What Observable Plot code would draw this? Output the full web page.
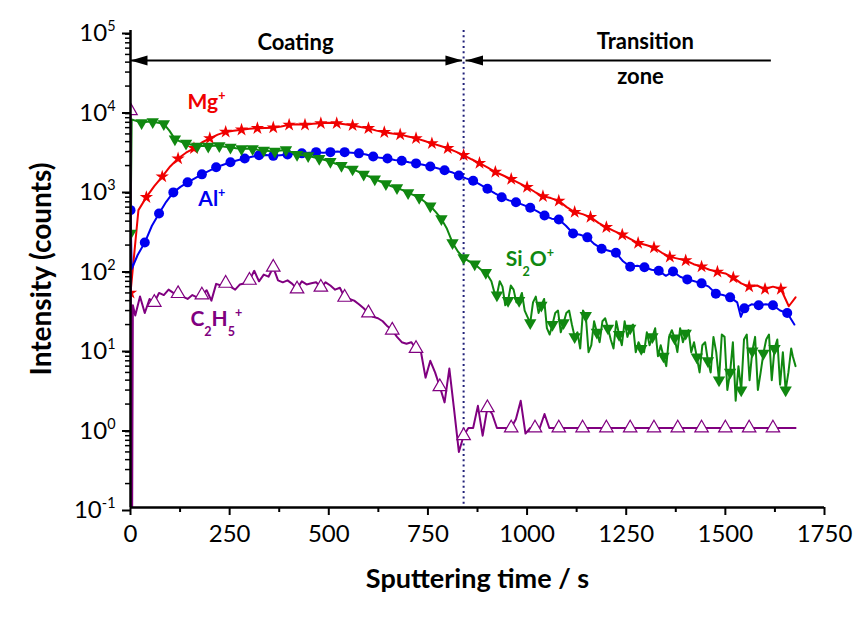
<!DOCTYPE html>
<html><head><meta charset="utf-8">
<script src="https://cdn.jsdelivr.net/npm/d3@7"></script>
<script src="https://cdn.jsdelivr.net/npm/@observablehq/plot@0.6"></script>
<style>html,body{margin:0;padding:0;background:#fff}#chart{width:862px;height:617px}</style>
</head><body><div id="chart"></div>
<script>
// ---------- data: [sputtering time (s), intensity (counts)] ----------
const mg = [[0,50],[20,550],[40,800],[60,1100],[80,1450],[100,1950],[120,2450],[140,2900],[160,3300],[180,3900],[200,4400],
[220,4900],[240,5300],[260,5500],[280,5650],[300,5800],[320,5900],[340,5950],[360,6000],[380,6200],[400,6500],
[420,6600],[440,6500],[460,6700],[480,6800],[500,6900],[520,6800],[540,6600],[560,6400],[580,6100],[600,5900],
[620,5500],[640,5250],[660,5050],[680,4900],[700,4650],[720,4400],[740,4100],[760,3800],[780,3550],[800,3300],
[820,3000],[840,2700],[860,2400],[880,2150],[900,1900],[920,1660],[940,1500],[960,1350],[980,1200],[1000,1070],
[1020,930],[1040,820],[1060,780],[1080,720],[1100,600],[1120,520],[1140,490],[1160,450],[1180,380],[1200,335],
[1220,300],[1240,270],[1260,240],[1280,212],[1300,200],[1320,186],[1340,160],[1360,142],[1380,135],[1400,128],
[1420,115],[1440,107],[1460,98],[1480,92],[1500,88],[1520,78],[1540,66],[1560,60],[1580,62],[1600,56],
[1620,60],[1640,56],[1660,34],[1677,44]];

const al = [[0,550],[3,100],[18,150],[36,215],[54,350],[72,500],[90,700],[108,920],[126,1080],[144,1230],[162,1380],[180,1550],
[198,1720],[216,1900],[234,2050],[252,2200],[270,2330],[288,2450],[306,2580],[324,2700],[342,2720],[360,2650],[378,2700],
[396,2750],[414,2800],[432,2850],[450,2900],[468,2950],[486,2900],[504,2950],[522,3000],[540,2950],[558,2900],[576,2850],
[594,2750],[612,2600],[630,2500],[648,2450],[666,2350],[684,2300],[702,2200],[720,2130],[738,2050],[756,1950],[774,1850],
[792,1750],[810,1650],[828,1500],[846,1380],[864,1290],[882,1150],[900,1020],[918,900],[936,800],[954,730],[972,690],
[990,640],[1008,590],[1026,530],[1044,470],[1062,430],[1080,420],[1098,350],[1116,280],[1134,270],[1152,250],[1170,205],
[1188,180],[1206,170],[1224,160],[1242,125],[1260,107],[1278,110],[1296,105],[1314,98],[1332,95],[1350,82],[1368,93],
[1386,80],[1404,74],[1422,70],[1440,66],[1458,60],[1476,49],[1494,47],[1512,44],[1530,38],[1539,25],[1548,32],[1566,36],
[1584,35],[1602,36],[1620,35],[1638,30],[1656,28],[1674,20]];

const si2o = [[0,280],[3,7600],[14,7300],[28,6900],[42,7100],[56,7100],[70,6900],[84,6700],[98,5500],[112,4300],[126,4000],
[140,3800],[154,3650],[168,3500],[182,3550],[196,3500],[210,3550],[224,3550],[238,3450],[252,3400],[266,3300],[280,3250],
[294,3250],[308,3250],[322,3150],[336,3100],[350,3050],[364,3020],[378,3100],[392,3150],[406,2950],[420,2750],[434,2700],
[448,2650],[462,2550],[476,2450],[490,2350],[504,2250],[518,2100],[532,2000],[546,1900],[560,1800],[574,1680],[588,1550],
[602,1450],[616,1350],[630,1260],[644,1175],[658,1100],[672,1050],[686,980],[700,910],[714,850],[728,790],[742,700],
[756,620],[770,520],[784,427],[798,320],[812,214],[826,165],[840,138],[854,125],[868,115],[882,100],
[896,90],[903,80],[910,70],[917,52],[924,47],[931,70],[938,60],[945,35],[952,40],[959,62],[966,55],[973,38],[980,40],
[987,50],[994,30],[1001,25],[1008,21],[1015,38],[1022,45],[1029,28],[1036,35],[1043,42],[1050,18],[1057,15],[1064,20],
[1071,28],[1078,30],[1085,16],[1092,21],[1099,28],[1106,30],[1113,20],[1120,14],[1127,16],[1134,10],[1141,30],[1148,26],
[1155,9],[1162,11],[1169,22],[1176,16],[1183,12],[1190,22],[1197,24],[1204,18],[1211,13],[1218,10],[1225,22],[1232,15],
[1239,11],[1246,22],[1253,14],[1260,18],[1267,20],[1274,9],[1281,12],[1288,10],[1295,9],[1302,16],[1309,11],[1316,14],
[1323,18],[1330,8],[1337,11],[1344,8],[1351,6],[1358,14],[1365,17],[1372,13.5],[1379,9],[1386,18],[1393,12],[1400,15.5],
[1407,17],[1414,9],[1421,12],[1428,7.8],[1435,5],[1442,11],[1449,12],[1456,7],[1463,5],[1470,14],[1477,9],[1484,4],
[1491,15],[1498,14],[1505,3],[1512,5],[1519,12],[1526,2.2],[1533,6],[1540,3],[1547,13],[1554,15],[1561,4],[1568,9.3],
[1575,14],[1582,3],[1589,5],[1596,8.7],[1603,13],[1610,15],[1617,4],[1624,10],[1631,13],[1638,3.5],[1645,9],[1652,3],
[1659,5],[1666,10],[1670,8],[1677,6]];

const c2h5 = [[0,9800],[2,0.05],[4,0.05],[6,35],[12,26],[24,45],[36,28],[48,42],[60,38],[72,50],[84,47],[96,55],[108,50],
[120,49],[132,45],[144,42],[156,47],[168,44],[180,47],[192,54],[204,40],[216,65],[228,62],[240,66],[252,60],[264,55],
[276,64],[288,66],[300,72],[312,95],[324,70],[336,85],[348,80],[360,105],[372,72],[384,68],[396,72],[408,65],[420,56],
[432,70],[444,64],[456,66],[468,68],[480,59],[492,68],[504,62],[516,55],[528,58],[540,44],[552,42],[564,40],[576,36],
[588,32],[600,28],[612,25],[624,24],[636,22],[648,19],[660,17],[672,14],[684,12],[696,11.5],[708,12],[720,10],
[732,9.3],[744,4.3],[756,7],[768,5],[780,3.3],[792,2.1],[804,5.6],[816,1.7],[828,0.5],[840,0.8],[852,1],[864,1],
[876,1.9],[888,0.8],[900,1.8],[912,1.5],[924,1],[936,1],[948,1],[960,1],[972,1.3],[984,2.2],[996,0.85],[1008,1],
[1020,1],[1032,1],[1044,1.5],[1056,1],[1068,1],[1080,1],[1140,1],[1200,1],[1260,1],[1320,1],[1380,1],[1440,1],
[1500,1],[1560,1],[1620,1],[1677,1]];

const xTicks = [0, 250, 500, 750, 1000, 1250, 1500, 1750];
const xMinorTicks = [125, 375, 625, 875, 1125, 1375, 1625];
const yTicks = [0.1, 1, 10, 100, 1000, 10000, 100000];
const yTickLabels = ["10^{-1}", "10^{0}", "10^{1}", "10^{2}", "10^{3}", "10^{4}", "10^{5}"];
const yMinorTicks = yTicks.slice(0, -1).flatMap(d => [2,3,4,5,6,7,8,9].map(k => k * d));

const seriesLabels = [
  {label: "Mg^{+}", t: 144, v: 12600, color: "#f00000"},
  {label: "Al^{+}", t: 171, v: 757, color: "#0000f0"},
  {label: "Si_{2}O^{+}", t: 946, v: 133, color: "#108810"},
  {label: "C_{2}H_{5}^{+}", t: 151, v: 23.4, color: "#800080"}
];
const zoneTexts = [
  {text: "Coating", t: 416, v: 69500},
  {text: "Transition", t: 1298, v: 71400},
  {text: "zone", t: 1286, v: 25900}
];
const boundary = 840;          // coating / transition boundary (s)
const arrowLevel = 42000;       // level of the zone arrows
const coatingArrow = {from: 0, to: 837};
const transitionArrow = {from: 846, to: 1616};

// ---------- build ----------
const rows = a => a.map(([t, v]) => ({t, v}));
const mgR = rows(mg), alR = rows(al), siR = rows(si2o), cR = rows(c2h5);
const colors = {mg: "#f00000", al: "#0000f0", si: "#108810", c: "#800080"};

const headLeft = {draw(ctx) { ctx.moveTo(0, 0); ctx.lineTo(17, -5); ctx.lineTo(17, 5); ctx.closePath(); }};
const headRight = {draw(ctx) { ctx.moveTo(0, 0); ctx.lineTo(-17, -5); ctx.lineTo(-17, 5); ctx.closePath(); }};

const chart = Plot.plot({
  width: 862, height: 617,
  marginLeft: 130, marginRight: 38, marginTop: 30, marginBottom: 110,
  style: {fontFamily: "Lato, 'Open Sans', sans-serif", background: "white", color: "black", overflow: "visible"},
  x: {domain: [0, 1750]},
  y: {type: "log", domain: [0.1, 100000]},
  marks: [
    Plot.axisX(xTicks, {tickSize: 8, strokeWidth: 2, fontSize: 24, tickPadding: 9, tickFormat: d => String(d), label: null}),
    Plot.axisX(xMinorTicks, {tickSize: 5, strokeWidth: 2, tickFormat: () => "", label: null}),
    Plot.axisY(yTicks, {tickSize: 8, strokeWidth: 2, fontSize: 24, tickPadding: 7, dy: 3, tickFormat: d => yTickLabels[yTicks.indexOf(d)], label: null}),
    Plot.axisY(yMinorTicks, {tickSize: 5, strokeWidth: 1.5, tickFormat: () => "", label: null}),
    Plot.ruleX([boundary], {stroke: "#22227a", strokeWidth: 2, strokeDasharray: "2,3.3"}),
    Plot.line(mgR, {x: "t", y: "v", stroke: colors.mg, strokeWidth: 2, clip: true}),
    Plot.dot(mgR.filter(d => d.t % 40 === 0), {x: "t", y: "v", symbol: "star", r: 4.2, fill: colors.mg, clip: true}),
    Plot.line(alR, {x: "t", y: "v", stroke: colors.al, strokeWidth: 2, clip: true}),
    Plot.dot(alR.filter(d => d.t % 36 === 0), {x: "t", y: "v", symbol: "circle", r: 5, fill: colors.al, clip: true}),
    Plot.line(siR, {x: "t", y: "v", stroke: colors.si, strokeWidth: 2, clip: true}),
    Plot.dot(siR.filter(d => d.t % 28 === 0), {x: "t", y: "v", symbol: "triangle", rotate: 180, r: 4.6, fill: colors.si, clip: true}),
    Plot.line(cR, {x: "t", y: "v", stroke: colors.c, strokeWidth: 2, clip: true}),
    Plot.dot(cR.filter(d => d.t % 60 === 0), {x: "t", y: "v", symbol: "triangle", r: 5, fill: "white", stroke: colors.c, strokeWidth: 1.2, clip: true}),
    Plot.ruleX([0], {stroke: "black", strokeWidth: 2.5}),
    Plot.ruleY([0.1], {stroke: "black", strokeWidth: 2.5}),
    Plot.ruleY([arrowLevel], {x1: coatingArrow.from, x2: coatingArrow.to, stroke: "black", strokeWidth: 2}),
    Plot.ruleY([arrowLevel], {x1: transitionArrow.from, x2: transitionArrow.to, stroke: "black", strokeWidth: 2}),
    Plot.dot([coatingArrow.from, transitionArrow.from], {x: d => d, y: () => arrowLevel, symbol: headLeft, fill: "black", stroke: "none"}),
    Plot.dot([coatingArrow.to], {x: d => d, y: () => arrowLevel, symbol: headRight, fill: "black", stroke: "none"}),
    Plot.text(zoneTexts, {x: "t", y: "v", text: "text", fontSize: 22, fontWeight: "bold", fill: "black"}),
    ...seriesLabels.map(s => Plot.text([s], {x: "t", y: "v", text: "label", textAnchor: "start", fontSize: 21, fontWeight: "bold", fill: s.color})),
    Plot.text(["Sputtering time / s"], {frameAnchor: "bottom", lineAnchor: "bottom", dy: 80, fontSize: 27, fontWeight: "bold", fill: "black"}),
    Plot.text(["Intensity (counts)"], {frameAnchor: "left", textAnchor: "middle", dx: -88, rotate: -90, fontSize: 28, fontWeight: "bold", fill: "black"})
  ]
});
document.getElementById("chart").appendChild(chart);

// rich text: ^{sup} and _{sub}
const NS = "http://www.w3.org/2000/svg";
chart.querySelectorAll("text").forEach(el => {
  const s = el.textContent;
  if (!/[\^_]\{/.test(s)) return;
  const fs = parseFloat(getComputedStyle(el).fontSize) || 20;
  while (el.firstChild) el.removeChild(el.firstChild);
  const re = /([\^_])\{([^}]*)\}|([^\^_]+)/g;
  let shift = 0, m;
  while ((m = re.exec(s))) {
    const ts = document.createElementNS(NS, "tspan");
    let target = 0;
    if (m[1] === "^") { target = -0.42 * fs; ts.setAttribute("font-size", (0.6 * fs).toFixed(1)); ts.textContent = m[2]; }
    else if (m[1] === "_") { target = 0.5 * fs; ts.setAttribute("font-size", (0.6 * fs).toFixed(1)); ts.textContent = m[2]; }
    else { ts.textContent = m[3]; }
    const dy = target - shift;
    if (dy) ts.setAttribute("dy", dy.toFixed(1));
    shift = target;
    el.appendChild(ts);
  }
});
</script></body></html>
